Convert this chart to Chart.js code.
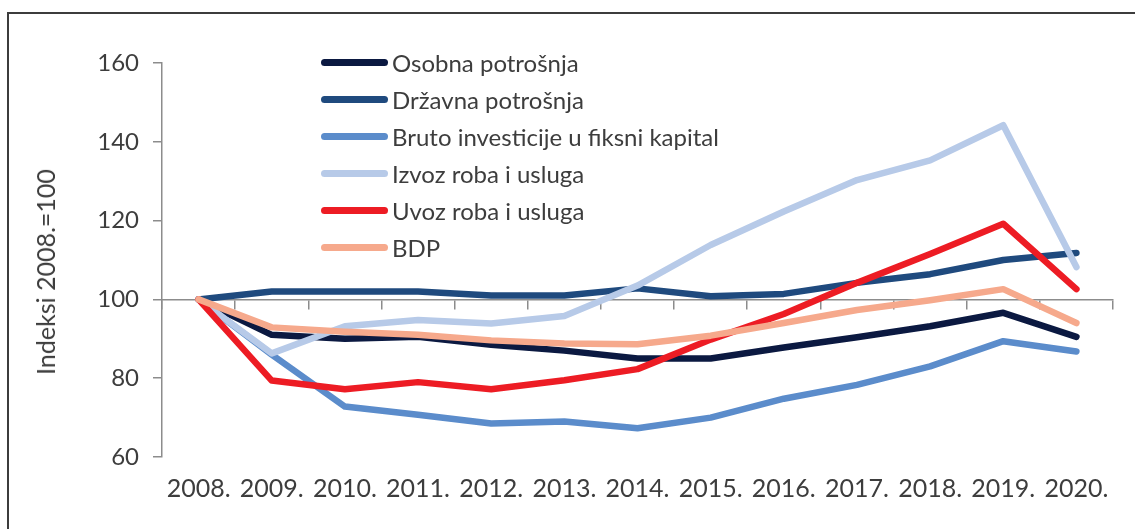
<!DOCTYPE html>
<html>
<head>
<meta charset="utf-8">
<script src="https://cdn.jsdelivr.net/npm/chart.js@4.4.1/dist/chart.umd.min.js"></script>
<style>
  html, body { margin: 0; padding: 0; background: #fff; overflow: hidden; }
  #wrap { position: relative; width: 1135px; height: 529px; }
  #frame { position: absolute; left: 7px; top: 12px; width: 1300px; height: 700px; border: 2px solid #3c3c3c; box-sizing: border-box; }
  #chart { position: absolute; left: 0; top: 0; }
  #ytitle { position: absolute; left: 45px; top: 272px; transform: translate(-50%, -50%) rotate(-90deg); font: 25px Lato, sans-serif; color: #3d3d3d; white-space: nowrap; }
  #legend { position: absolute; left: 321px; top: 44px; font: 24px Lato, sans-serif; color: #3d3d3d; }
  .item { height: 37px; display: flex; align-items: center; }
  .sw { width: 67px; height: 7px; border-radius: 4px; margin-right: 4px; }
</style>
</head>
<body>
<div id="wrap">
  <div id="frame"></div>
  <canvas id="chart" width="1135" height="529"></canvas>
  <div id="ytitle">Indeksi 2008.=100</div>
  <div id="legend"></div>
</div>
<script>
const years = ['2008.', '2009.', '2010.', '2011.', '2012.', '2013.', '2014.', '2015.', '2016.', '2017.', '2018.', '2019.', '2020.'];
const osobnaPotrosnja = [100, 91.0, 90.0, 90.5, 88.5, 87.0, 85.0, 85.0, 87.8, 90.4, 93.2, 96.6, 90.5];
const drzavnaPotrosnja = [100, 102.0, 102.0, 102.0, 101.0, 101.0, 102.8, 100.8, 101.4, 104.2, 106.4, 110.0, 111.8];
const brutoInvesticije = [100, 86.0, 72.8, 70.7, 68.5, 69.0, 67.3, 70.0, 74.8, 78.3, 83.0, 89.4, 86.8];
const izvoz = [100, 86.3, 93.2, 94.8, 93.9, 95.8, 103.5, 113.8, 122.3, 130.3, 135.3, 144.2, 108.2];
const uvoz = [100, 79.4, 77.2, 79.0, 77.2, 79.5, 82.3, 89.8, 96.3, 104.2, 111.5, 119.2, 102.6];
const bdp = [100, 92.9, 91.8, 91.0, 89.6, 88.8, 88.6, 90.8, 94.0, 97.3, 99.8, 102.6, 94.0];

const seriesNames = ['Osobna potrošnja', 'Državna potrošnja', 'Bruto investicije u fiksni kapital', 'Izvoz roba i usluga', 'Uvoz roba i usluga', 'BDP'];
const seriesValues = [osobnaPotrosnja, drzavnaPotrosnja, brutoInvesticije, izvoz, uvoz, bdp];
const seriesColors = ['#0b1941', '#1f4a7e', '#5b8ccb', '#b7cae8', '#ed1c24', '#f6a98c'];

const yTicks = [60, 80, 100, 120, 140, 160];

const textColor = '#3d3d3d';
const axisColor = '#8c8c8c';

const datasets = seriesNames.map((name, i) => ({
  label: name,
  data: seriesValues[i],
  borderColor: seriesColors[i],
  backgroundColor: seriesColors[i],
  borderWidth: 6.5,
  pointRadius: 0,
  tension: 0,
  fill: false,
  borderCapStyle: 'round',
  borderJoinStyle: 'round',
  order: seriesNames.length - i,
  xAxisID: 'x',
  yAxisID: 'y'
}));

// HTML legend built from the series
const legendEl = document.getElementById('legend');
seriesNames.forEach((name, i) => {
  const row = document.createElement('div');
  row.className = 'item';
  const sw = document.createElement('span');
  sw.className = 'sw';
  sw.style.background = seriesColors[i];
  const tx = document.createElement('span');
  tx.textContent = name;
  row.appendChild(sw);
  row.appendChild(tx);
  legendEl.appendChild(row);
});

new Chart(document.getElementById('chart'), {
  type: 'line',
  data: { labels: years, datasets },
  options: {
    responsive: false,
    animation: false,
    layout: { padding: { top: 63, right: 22, bottom: 0, left: 0 } },
    plugins: { legend: { display: false }, tooltip: { enabled: false } },
    scales: {
      x: {
        type: 'category',
        position: 'bottom',
        offset: true,
        grid: { display: false, drawTicks: false },
        border: { display: false },
        ticks: { font: { family: 'Lato', size: 25 }, color: textColor, padding: 17, maxRotation: 0, autoSkip: false },
        afterFit(s) { s.height = 72; }
      },
      x2: {
        type: 'category',
        position: { y: 100 },
        offset: true,
        grid: { offset: true, drawOnChartArea: false, drawTicks: true, tickLength: 9, color: axisColor, lineWidth: 1.5 },
        border: { display: true, color: axisColor, width: 1.5 },
        ticks: { display: false }
      },
      y: {
        min: yTicks[0],
        max: yTicks[yTicks.length - 1],
        afterBuildTicks(s) { s.ticks = yTicks.map(v => ({ value: v })); },
        ticks: { font: { family: 'Lato', size: 24 }, color: textColor, padding: 14 },
        grid: { drawOnChartArea: false, drawTicks: true, tickLength: 9, color: axisColor, lineWidth: 1.5 },
        border: { display: true, color: axisColor, width: 1.5 },
        afterFit(s) { s.width = 162; }
      }
    }
  }
});
</script>
</body>
</html>
